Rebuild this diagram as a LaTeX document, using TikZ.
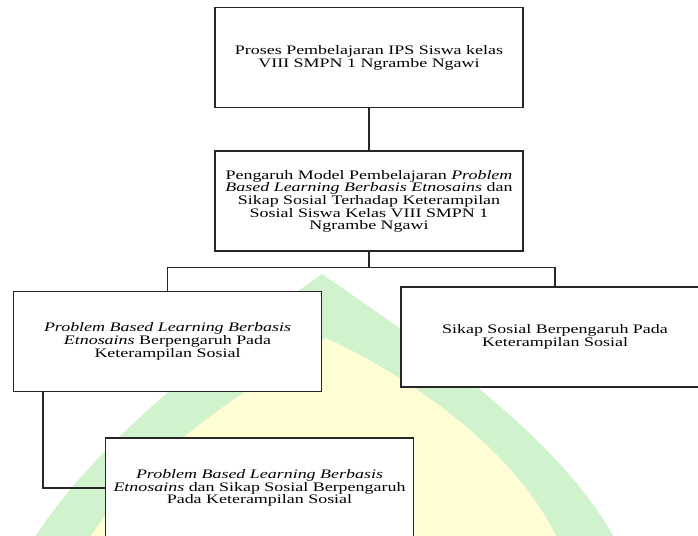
\documentclass[tikz,border=0pt]{standalone}
\usepackage{fontspec}
\setmainfont{Liberation Serif}[FakeStretch=1.38]
\usetikzlibrary{calc}

\definecolor{wmgreen}{RGB}{208,242,205}
\definecolor{wmyellow}{RGB}{255,253,212}

\begin{document}
\begin{tikzpicture}[x=1pt, y=-1pt, thick,
  box/.style={draw=black!85, line width=1.1pt, fill=white, minimum width=308, minimum height=100,
    inner sep=0pt, align=center, font=\fontsize{13}{11.6}\selectfont},
  link/.style={draw=black!85, line width=1.1pt}]
  \clip (0,0) rectangle (698,535);
  % 背景水印
  \fill[wmgreen] (30,545) .. controls (100,430) and (255,322) .. (322,274)
    .. controls (390,322) and (560,430) .. (618,545) -- cycle;
  \fill[wmyellow] (85,545) .. controls (150,440) and (275,375) .. (326,338)
    .. controls (385,365) and (515,440) .. (560,545) -- cycle;
  % 方框
  \node[box] (proses) at (369,57.5) {Proses Pembelajaran IPS Siswa kelas\\VIII SMPN 1 Ngrambe Ngawi};
  \node[box] (pengaruh) at (369,201) {Pengaruh Model Pembelajaran \textit{Problem}\\
    \textit{Based Learning Berbasis Etnosains} dan\\Sikap Sosial Terhadap Keterampilan\\
    Sosial Siswa Kelas VIII SMPN 1\\Ngrambe Ngawi};
  \node[box] (pbl) at (167.5,341.5) {\textit{Problem Based Learning Berbasis}\\
    \textit{Etnosains} Berpengaruh Pada\\Keterampilan Sosial};
  \node[box] (sikap) at (555,337) {Sikap Sosial Berpengaruh Pada\\Keterampilan Sosial};
  \node[box] (gabungan) at (259.5,488) {\textit{Problem Based Learning Berbasis}\\
    \textit{Etnosains} dan Sikap Sosial Berpengaruh\\Pada Keterampilan Sosial};
  % 连线
  \draw[link] (proses.south) -- (pengaruh.north);
  \draw[link] (pengaruh.south) -- ++(0,16) coordinate (cabang);
  \draw[link] (cabang) -| (pbl.north);
  \draw[link] (cabang) -| (sikap.north);
  \draw[link] ($(pbl.south west)+(30,0)$) |- (gabungan.west);
\end{tikzpicture}
\end{document}
